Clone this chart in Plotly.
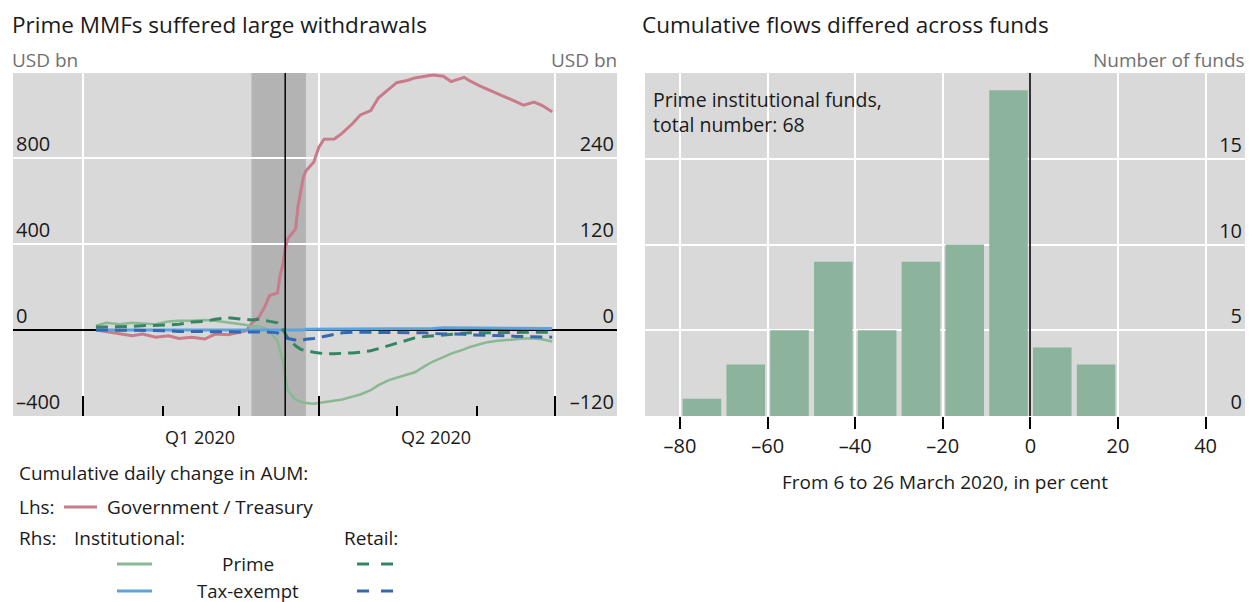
import plotly.graph_objects as go

# ---------------- data ----------------
DATES = ["2020-01-06","2020-01-10","2020-01-15","2020-01-20","2020-01-24","2020-01-29",
         "2020-02-03","2020-02-07","2020-02-12","2020-02-17","2020-02-21","2020-02-26",
         "2020-03-02","2020-03-04","2020-03-06","2020-03-09","2020-03-11","2020-03-13",
         "2020-03-16","2020-03-17","2020-03-18","2020-03-19","2020-03-20",
         "2020-03-23","2020-03-24","2020-03-25","2020-03-26","2020-03-27","2020-03-30",
         "2020-04-01","2020-04-03","2020-04-07","2020-04-10","2020-04-14","2020-04-17",
         "2020-04-21","2020-04-24","2020-04-28",
         "2020-05-01","2020-05-05","2020-05-08","2020-05-12","2020-05-15","2020-05-19",
         "2020-05-22","2020-05-27","2020-05-29",
         "2020-06-02","2020-06-05","2020-06-09","2020-06-12","2020-06-16","2020-06-19",
         "2020-06-23","2020-06-26","2020-06-30"]

GOV_TREASURY = [0, -8, -20, -27, -19, -34, -27, -39, -34, -42, -19, -22,
                -10, -3, 30, 62, 105, 160,
                172, 250, 300, 380, 425,
                470, 580, 640, 710, 740, 780,
                850, 887, 888, 915, 960, 1000, 1020, 1080, 1120,
                1150, 1160, 1172, 1180, 1186, 1180, 1155, 1175, 1160,
                1135, 1120, 1100, 1085, 1062, 1045, 1060, 1045, 1015]

INST_PRIME = [6, 10, 8, 10, 9, 8, 12, 13, 13, 14, 13, 10,
              8, 7, 5, 5, 3, -2,
              -15, -28, -42, -65, -85,
              -97, -99, -100, -101, -102, -103,
              -102, -101, -99, -97, -93, -90, -84, -77, -70,
              -67, -62, -59, -50, -44, -38, -33, -27, -24,
              -20, -17, -15, -14, -12, -12, -12, -13, -16]

INST_TAX_EXEMPT = [0, 0, 0, 0, 0, 0, 0, 0, 0, 0, 0, 0,
                   0, 0, 0, 0, 0, 0,
                   0, -1, -1, -1, -1,
                   0, 0, 0, 0, 1, 1,
                   1, 1, 1, 2, 2, 2, 2, 2, 2,
                   2, 2, 2, 2, 2, 3, 3, 3, 3,
                   3, 3, 2, 2, 2, 2, 2, 2, 2]

RETAIL_PRIME = [4, 4, 5, 5, 6, 6, 7, 8, 11, 12, 15, 17,
                15, 14, 14, 15, 14, 12,
                10, 6, 1, -5, -11,
                -22, -25, -27, -28, -29, -31,
                -32, -33, -33, -33, -32, -31, -29, -26, -22,
                -18, -14, -11, -9, -8, -7, -6, -5, -4,
                -4, -4, -3, -3, -3, -3, -3, -3, -3]

RETAIL_TAX_EXEMPT = [0, 0, -1, -1, -1, -1, -1, -2, -2, -2, -3, -3,
                     -3, -3, -3, -3, -3, -3,
                     -4, -6, -8, -10, -12,
                     -14, -15, -15, -14, -13, -12,
                     -11, -9, -6, -4, -3, -3, -3, -3, -3,
                     -3, -3, -4, -4, -5, -5, -6, -6, -7,
                     -7, -7, -8, -8, -9, -9, -9, -10, -10]

SHADE_START, SHADE_END = "2020-03-06", "2020-03-27"
EVENT_DATE = "2020-03-19"
QUARTER_TICKS = ["2020-01-01", "2020-04-01", "2020-07-01"]
QUARTER_LABEL_POS = ["2020-02-15", "2020-05-16"]
QUARTER_LABELS = ["Q1 2020", "Q2 2020"]

LHS_TICKS = [-400, 0, 400, 800]
LHS_LABELS = ["–400", "0", "400", "800"]
RHS_TICKS = [-120, 0, 120, 240]
RHS_LABELS = ["–120", "0", "120", "240"]

HIST_BIN_CENTERS = [-75, -65, -55, -45, -35, -25, -15, -5, 5, 15]
HIST_COUNTS = [1, 3, 5, 9, 5, 9, 10, 19, 4, 3]
HIST_X_TICKS = [-80, -60, -40, -20, 0, 20, 40]
HIST_X_LABELS = ["–80", "–60", "–40", "–20", "0", "20", "40"]
HIST_Y_TICKS = [0, 5, 10, 15]

# ---------------- styling ----------------
W, H = 1249, 602
FONT = "Open Sans"
BG = "#d9d9d9"
PINK = "#c97b8c"
GREEN_L = "#89b893"
BLUE_L = "#5ba3de"
GREEN_D = "#358563"
BLUE_D = "#3468b3"
BAR = "#8cb39b"
TXT = "#1a1a1a"
GREY_TXT = "#707070"


def fx(px):
    return px / W


def fy(py):
    return 1 - py / H


TOP, BOT = 73, 416

fig = go.Figure()

fig.add_trace(go.Scatter(x=DATES, y=GOV_TREASURY, mode="lines",
                         line=dict(color=PINK, width=3), xaxis="x", yaxis="y"))
fig.add_trace(go.Scatter(x=DATES, y=INST_PRIME, mode="lines",
                         line=dict(color=GREEN_L, width=2.5), xaxis="x", yaxis="y2"))
fig.add_trace(go.Scatter(x=DATES, y=INST_TAX_EXEMPT, mode="lines",
                         line=dict(color=BLUE_L, width=3), xaxis="x", yaxis="y2"))
fig.add_trace(go.Scatter(x=DATES, y=RETAIL_PRIME, mode="lines",
                         line=dict(color=GREEN_D, width=3, dash="12px,7px"), xaxis="x", yaxis="y2"))
fig.add_trace(go.Scatter(x=DATES, y=RETAIL_TAX_EXEMPT, mode="lines",
                         line=dict(color=BLUE_D, width=3, dash="12px,7px"), xaxis="x", yaxis="y2"))

fig.add_trace(go.Bar(x=HIST_BIN_CENTERS, y=HIST_COUNTS, width=8.8,
                     marker=dict(color=BAR, line=dict(width=0)), xaxis="x2", yaxis="y3"))

tick_font = dict(family=FONT, size=20, color=TXT)

fig.update_layout(
    width=W, height=H, margin=dict(l=0, r=0, t=0, b=0),
    paper_bgcolor="white", plot_bgcolor=BG, showlegend=False,
    font=dict(family=FONT, color=TXT),
    xaxis=dict(domain=[fx(13), fx(617)], type="date",
               range=["2019-12-05", "2020-07-25"],
               tickvals=QUARTER_TICKS, showticklabels=False,
               ticks="inside", ticklen=20, tickwidth=1.5, tickcolor="black",
               showgrid=True, gridcolor="white", gridwidth=2, zeroline=False,
               showline=False, anchor="y",
               minor=dict(dtick="M1", tick0="2020-01-01", ticks="inside", ticklen=10,
                          tickwidth=1.5, tickcolor="black", showgrid=False)),
    yaxis=dict(domain=[fy(BOT), fy(TOP)], range=[-400, 1195],
               tickvals=LHS_TICKS, ticktext=LHS_LABELS, ticks="",
               ticklabelposition="inside top", tickfont=tick_font,
               showgrid=True, gridcolor="white", gridwidth=2,
               zeroline=True, zerolinecolor="black", zerolinewidth=1.5,
               anchor="x"),
    yaxis2=dict(overlaying="y", side="right", range=[-120, 358.5],
                tickvals=RHS_TICKS, ticktext=RHS_LABELS, ticks="",
                ticklabelposition="inside top", tickfont=tick_font,
                showgrid=False, zeroline=False, anchor="x"),
    xaxis2=dict(domain=[fx(645), fx(1245)], range=[-88, 49],
                tickvals=HIST_X_TICKS, ticktext=HIST_X_LABELS,
                ticks="outside", ticklen=12, tickwidth=1.5, tickcolor="black",
                tickfont=tick_font,
                showgrid=True, gridcolor="white", gridwidth=2,
                zeroline=True, zerolinecolor="#333333", zerolinewidth=1.5,
                anchor="y3",
                title=dict(text="From 6 to 26 March 2020, in per cent",
                           font=dict(family=FONT, size=19, color=TXT), standoff=17)),
    yaxis3=dict(domain=[fy(BOT), fy(TOP)], range=[0, 20], side="right",
                tickvals=HIST_Y_TICKS, ticks="", ticklabelposition="inside top",
                tickfont=tick_font, showgrid=True, gridcolor="white", gridwidth=2,
                zeroline=False, anchor="x2"),
)

shapes = [
    dict(type="rect", xref="x", yref="y domain", x0=SHADE_START, x1=SHADE_END, y0=0, y1=1,
         fillcolor="#b3b3b3", line=dict(width=0), layer="below"),
    dict(type="line", xref="x", yref="y domain", x0=EVENT_DATE, x1=EVENT_DATE, y0=0, y1=1,
         line=dict(color="black", width=1.5), layer="above"),
]

annotations = []
for pos, lab in zip(QUARTER_LABEL_POS, QUARTER_LABELS):
    annotations.append(dict(x=pos, xref="x", y=fy(437), yref="paper", text=lab,
                            showarrow=False, xanchor="center", yanchor="middle",
                            font=dict(family=FONT, size=18, color=TXT)))


def txt(x, y, s, size=18, color=TXT, anchor="left"):
    annotations.append(dict(x=fx(x), y=fy(y), xref="paper", yref="paper", text=s,
                            showarrow=False, xanchor=anchor, yanchor="middle", align="left",
                            font=dict(family=FONT, size=size, color=color)))


# titles and units
txt(10, 25, "Prime MMFs suffered large withdrawals", size=22.5)
txt(640, 25, "Cumulative flows differed across funds", size=22.5)
txt(10, 60, "USD bn", size=19, color=GREY_TXT)
txt(619, 60, "USD bn", size=19, color=GREY_TXT, anchor="right")
txt(1247, 60, "Number of funds", size=19, color=GREY_TXT, anchor="right")
txt(651, 112, "Prime institutional funds,<br>total number: 68", size=19.5)

# legend
txt(17, 473, "Cumulative daily change in AUM:", size=19)
txt(17, 507, "Lhs:", size=19)
txt(105, 507, "Government / Treasury", size=19)
txt(17, 538, "Rhs:", size=19)
txt(72, 538, "Institutional:", size=19)
txt(342, 538, "Retail:", size=19)
txt(248, 564, "Prime", size=19, anchor="center")
txt(248, 590, "Tax-exempt", size=18.5, anchor="center")


def seg(x0, x1, y, color, width=3):
    shapes.append(dict(type="line", xref="paper", yref="paper", x0=fx(x0), x1=fx(x1),
                       y0=fy(y), y1=fy(y), line=dict(color=color, width=width)))


seg(64, 97, 507, PINK)
seg(117, 152, 564, GREEN_L)
seg(117, 152, 591, BLUE_L)
for a, b in [(357, 369), (381, 393)]:
    seg(a, b, 564, GREEN_D)
    seg(a, b, 591, BLUE_D)

fig.update_layout(shapes=shapes, annotations=annotations)

fig.write_html("out.html", config={"displayModeBar": False},
               post_script="document.body.style.margin='0';document.body.style.overflow='hidden';")
